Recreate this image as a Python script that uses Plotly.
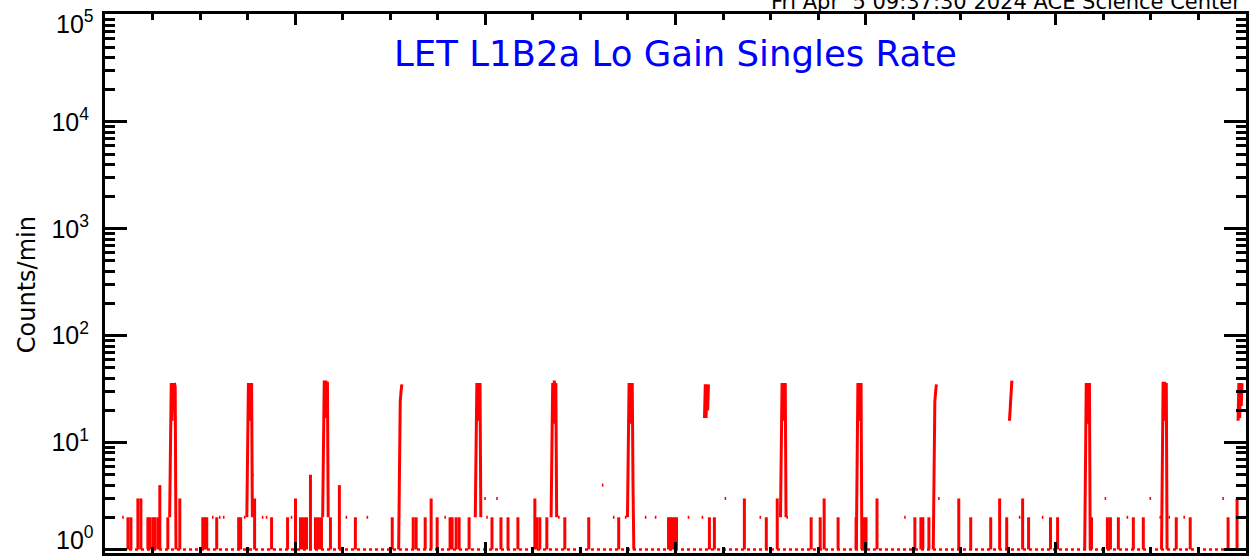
import plotly.graph_objects as go

# ---- data (x in hours from start of 6-day window, y in counts/min) ----
cal_hours = [8.56, 18.25, 27.82, 37.26, 47.08, 56.65, 66.34, 75.91,
             85.60, 95.17, 104.73, 114.30, 123.99, 133.69, 143.25]
cal_values = [
    [2, 14, 36, 16, 36, 20, 36, 33, 1],
    [2, 15, 36, 16, 36, 18, 36, 2],
    [2, 16, 38, 17, 38, 20, 37, 2],
    [1, 13, 24, 30, 35],
    [2, 15, 36, 16, 36, 18, 36, 2],
    [2, 13, 36, 15, 38, 20, 36, 2],
    [2, 14, 36, 15, 36, 18, 36, 4, 1],
    [17, 35, 17, 35, 20, 35],
    [2, 15, 36, 16, 36, 18, 36, 2],
    [1, 15, 36, 16, 36, 18, 36, 1],
    [1, 13, 24, 30, 35],
    [16, 24, 30, 38],
    [1, 13, 36, 15, 36, 18, 36, 1],
    [1, 15, 37, 16, 37, 18, 36, 1],
    [16, 36, 17, 36, 22, 36],
]

bar_hours = [2.90, 3.27, 4.15, 4.53, 5.41, 5.66, 6.04, 6.29, 6.67, 6.92, 7.93, 9.44,
             12.34, 12.59, 12.84, 14.10, 16.87, 17.12, 18.88, 21.02, 23.04, 24.04,
             24.67, 25.05, 25.43, 25.93, 26.56, 26.94, 27.32, 28.45, 29.58, 31.60,
             36.25, 38.90, 39.27, 40.41, 41.16, 41.92, 43.55, 43.81, 44.31, 44.69,
             45.95, 48.84, 49.97, 50.86, 52.11, 54.25, 54.51, 54.88, 55.76, 58.03,
             61.05, 64.83, 71.12, 71.37, 71.63, 71.88, 72.13, 76.28, 76.91, 80.69,
             83.46, 84.84, 89.12, 90.26, 90.76, 92.52, 94.79, 95.79, 96.05, 97.43,
             102.21, 102.97, 103.22, 103.98, 107.75, 109.26, 111.78, 112.91, 113.80,
             115.81, 116.56, 119.33, 120.22, 124.50, 126.51, 126.89, 127.89, 129.78,
             131.04, 135.20, 136.96, 141.74, 142.87]
bar_levels = [2, 2, 3, 3, 2, 2, 2, 2, 2, 4, 2, 3,
              2, 2, 2, 2, 2, 2, 3, 2, 2, 3,
              2, 2, 2, 5, 2, 2, 2, 2, 4, 2,
              2, 2, 2, 2, 3, 2, 2, 2, 2, 2,
              2, 2, 2, 2, 2, 3, 2, 2, 2, 2,
              2, 2, 2, 2, 2, 2, 2, 2, 2, 3,
              2, 3, 2, 2, 3, 2, 2, 2, 2, 3,
              2, 2, 2, 2, 3, 2, 2, 3, 2,
              3, 2, 2, 2, 2, 2, 2, 2, 2,
              2, 2, 2, 2, 3]

dash_hours = [2.27, 13.60, 14.48, 14.98, 17.62, 18.63, 19.89, 20.39, 23.54, 30.46,
              33.11, 42.93, 47.96, 48.21, 49.47, 57.28, 62.81, 64.20, 65.71, 68.23,
              69.49, 73.64, 75.40, 78.30, 82.70, 86.10, 100.96, 105.24, 115.43,
              118.33, 126.26, 129.03, 131.92, 133.18, 134.31, 136.20, 141.11, 143.75]
dash_levels = [2, 2, 2, 2, 2, 5, 2, 2, 2, 2,
               2, 2, 3, 2, 3, 2, 4, 2, 2, 2,
               2, 2, 2, 3, 2, 2, 2, 3, 2,
               2, 3, 2, 3, 2, 2, 2, 3, 2]

floor_hours = [0.0, 144.0]
floor_levels = [1, 1]

ytick_vals = [1, 10, 100, 1000, 10000, 100000]
ytick_text = ["", "10<sup>1</sup>", "10<sup>2</sup>",
              "10<sup>3</sup>", "10<sup>4</sup>", ""]
edge_label_bottom = "10<sup>0</sup>"
edge_label_top = "10<sup>5</sup>"

title_text = "LET L1B2a Lo Gain Singles Rate"
stamp_text = "Fri Apr\u00a0 5 09:37:30 2024 ACE Science Center"
ylabel_text = "Counts/min"

# ---- build line coordinates ----
xs, ys = [], []
step = 0.1
for h, vals in zip(cal_hours, cal_values):
    t0 = h - step * (len(vals) - 1) / 2
    for i, v in enumerate(vals):
        xs.append(t0 + i * step)
        ys.append(v)
    xs.append(None); ys.append(None)
for h, lv in zip(bar_hours, bar_levels):
    xs += [h, h, None]
    ys += [1, lv, None]
for h, lv in zip(dash_hours, dash_levels):
    xs += [h - 0.1, h + 0.1, None]
    ys += [lv, lv, None]

minor_y = [m * 10 ** e for e in range(0, 5) for m in range(2, 10)]

fig = go.Figure()
fig.add_trace(go.Scatter(x=floor_hours, y=floor_levels, mode="lines",
                         line=dict(color="#ff0000", width=2.5, dash="dot"),
                         hoverinfo="skip", showlegend=False))
fig.add_trace(go.Scatter(x=xs, y=ys, mode="lines",
                         line=dict(color="#ff0000", width=3),
                         connectgaps=False, showlegend=False))

PLOT_L, PLOT_T, PLOT_B = 105, 14, 553
PW, PH = 1254 - 5 - PLOT_L, PLOT_B - PLOT_T


def px_to_paper_x(px):
    return (px - PLOT_L) / PW


def px_to_paper_y(py):
    return (PLOT_B - py) / PH


tick_font = dict(family="Liberation Sans", size=25, color="black")

fig.update_layout(
    width=1254, height=558,
    margin=dict(l=PLOT_L, r=5, t=PLOT_T, b=558 - PLOT_B),
    paper_bgcolor="white", plot_bgcolor="white",
    showlegend=False,
    xaxis=dict(range=[0, 144], tick0=0, dtick=24, ticks="inside", ticklen=11,
               tickwidth=3, tickcolor="black", showticklabels=False,
               showline=True, linewidth=3, linecolor="black", mirror="allticks",
               showgrid=False, zeroline=False,
               minor=dict(dtick=6, tick0=0, ticks="inside", ticklen=6, tickwidth=3,
                          tickcolor="black", showgrid=False)),
    yaxis=dict(type="log", range=[-0.033, 5.009], tickmode="array",
               tickvals=ytick_vals, ticktext=ytick_text,
               ticks="inside", ticklen=22, tickwidth=3, tickcolor="black",
               showline=True, linewidth=3, linecolor="black", mirror="allticks",
               showgrid=False, zeroline=False, ticklabelstandoff=8,
               ticklabeloverflow="allow",
               tickfont=tick_font,
               minor=dict(tickmode="array", tickvals=minor_y, ticks="inside",
                          ticklen=10, tickwidth=3, tickcolor="black", showgrid=False)),
    annotations=[
        dict(text=title_text, xref="paper", yref="paper", x=px_to_paper_x(677),
             y=px_to_paper_y(53), xanchor="center", yanchor="middle", showarrow=False,
             font=dict(family="DejaVu Sans", size=35.5, color="#0000ff")),
        dict(text=stamp_text, xref="paper", yref="paper", x=px_to_paper_x(1246),
             y=px_to_paper_y(2), xanchor="right", yanchor="middle", showarrow=False,
             font=dict(family="DejaVu Sans", size=21, color="black")),
        dict(text=ylabel_text, xref="paper", yref="paper", x=px_to_paper_x(27),
             y=px_to_paper_y(285), xanchor="center", yanchor="middle", textangle=-90,
             showarrow=False,
             font=dict(family="DejaVu Sans", size=24, color="black")),
        dict(text=edge_label_top, xref="paper", yref="paper", x=px_to_paper_x(96),
             y=px_to_paper_y(22), xanchor="right", yanchor="middle", showarrow=False,
             font=tick_font),
        dict(text=edge_label_bottom, xref="paper", yref="paper", x=px_to_paper_x(96),
             y=px_to_paper_y(538), xanchor="right", yanchor="middle", showarrow=False,
             font=tick_font),
    ],
)

fig.write_html("out.html", config={"displayModeBar": False},
               post_script="document.body.style.margin='0px';")
